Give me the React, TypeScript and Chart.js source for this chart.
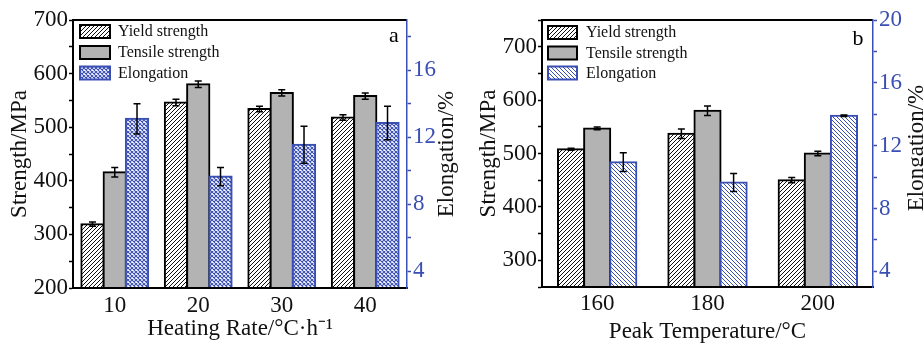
import React, { useEffect, useRef } from 'react';
import { Chart, registerables } from 'chart.js';

Chart.register(...registerables);

// ---------- Panel a: heating rate ----------
const rateCategories = ['10', '20', '30', '40'];
const rateYield = [319, 546, 534, 518];
const rateYieldErr = [4, 6, 5, 5];
const rateTensile = [416, 580, 564, 558];
const rateTensileErr = [9, 6, 6, 6];
const rateElong = [13.1, 9.65, 11.55, 12.85];
const rateElongErr = [0.9, 0.55, 1.1, 1.0];
const rateLeftTicks = [200, 250, 300, 350, 400, 450, 500, 550, 600, 650, 700];
const rateRightTicks = [4, 6, 8, 10, 12, 14, 16, 18];

// ---------- Panel b: peak temperature ----------
const peakCategories = ['160', '180', '200'];
const peakYield = [508, 537, 450];
const peakYieldErr = [2, 9, 5];
const peakTensile = [547, 580, 500];
const peakTensileErr = [2.5, 9, 4];
const peakElong = [10.95, 9.65, 13.9];
const peakElongErr = [0.6, 0.57, 0.05];
const peakLeftTicks = [250, 300, 350, 400, 450, 500, 550, 600, 650, 700, 750];
const peakRightTicks = [4, 6, 8, 10, 12, 14, 16, 18, 20];

const seriesLabels = ['Yield strength', 'Tensile strength', 'Elongation'];
const leftTitle = 'Strength/MPa';
const rightTitle = 'Elongation/%';
const rateTitle = 'Heating Rate/°C·h⁻¹';
const peakTitle = 'Peak Temperature/°C';

const FONT_FAMILY = "'Liberation Serif', 'Times New Roman', Times, serif";
const BLUE = '#3a4fb4';
const GRAY = '#b3b3b3';

function makeHatch(color: string, dir: 'up' | 'down', size = 4, lw = 1): any {
  const c = document.createElement('canvas');
  c.width = size;
  c.height = size;
  const g = c.getContext('2d')!;
  g.fillStyle = '#ffffff';
  g.fillRect(0, 0, size, size);
  g.strokeStyle = color;
  g.lineWidth = lw;
  g.beginPath();
  for (const o of [-size, 0, size]) {
    if (dir === 'up') {
      g.moveTo(o, size);
      g.lineTo(o + size, 0);
    } else {
      g.moveTo(o, 0);
      g.lineTo(o + size, size);
    }
  }
  g.stroke();
  return g.createPattern(c, 'repeat');
}

function makeCross(color: string, size = 4, lw = 1.1): any {
  const c = document.createElement('canvas');
  c.width = size;
  c.height = size;
  const g = c.getContext('2d')!;
  g.fillStyle = '#ffffff';
  g.fillRect(0, 0, size, size);
  g.strokeStyle = color;
  g.lineWidth = lw;
  g.beginPath();
  for (const o of [-size, 0, size]) {
    g.moveTo(o, size);
    g.lineTo(o + size, 0);
    g.moveTo(o, 0);
    g.lineTo(o + size, size);
  }
  g.stroke();
  return g.createPattern(c, 'repeat');
}

type PanelSpec = {
  canvasLeft: number;
  width: number;
  height: number;
  plot: { left: number; right: number; top: number; bottom: number };
  categories: string[];
  yieldV: number[];
  yieldE: number[];
  tensileV: number[];
  tensileE: number[];
  elongV: number[];
  elongE: number[];
  yMin: number;
  yMax: number;
  y1Min: number;
  y1Max: number;
  leftTicks: number[];
  rightTicks: number[];
  catPct: number;
  xTitle: string;
  xTickPad: number;
  xTitlePad: number;
  yTitlePad: number;
  rightTitleX: number;
  rightTitleY: number;
  legendX: number;
  legendW: number;
  legendRows: number[];
  legendTextX: number;
  tag: string;
  tagX: number;
  tagY: number;
  elongStyle: 'cross' | 'hatch';
};

const panelA: PanelSpec = {
  canvasLeft: 0,
  width: 460,
  height: 348,
  plot: { left: 73, right: 407, top: 20, bottom: 288 },
  categories: rateCategories,
  yieldV: rateYield,
  yieldE: rateYieldErr,
  tensileV: rateTensile,
  tensileE: rateTensileErr,
  elongV: rateElong,
  elongE: rateElongErr,
  yMin: 200,
  yMax: 700,
  y1Min: 3,
  y1Max: 19,
  leftTicks: rateLeftTicks,
  rightTicks: rateRightTicks,
  catPct: 0.8,
  xTitle: rateTitle,
  xTickPad: 4,
  xTitlePad: 5,
  yTitlePad: 6,
  rightTitleX: 447,
  rightTitleY: 154,
  legendX: 80,
  legendW: 30,
  legendRows: [31.5, 52.5, 73],
  legendTextX: 118,
  tag: 'a',
  tagX: 394,
  tagY: 36,
  elongStyle: 'cross',
};

const panelB: PanelSpec = {
  canvasLeft: 460,
  width: 463,
  height: 348,
  plot: { left: 82, right: 413, top: 20, bottom: 287 },
  categories: peakCategories,
  yieldV: peakYield,
  yieldE: peakYieldErr,
  tensileV: peakTensile,
  tensileE: peakTensileErr,
  elongV: peakElong,
  elongE: peakElongErr,
  yMin: 250,
  yMax: 750,
  y1Min: 3,
  y1Max: 20,
  leftTicks: peakLeftTicks,
  rightTicks: peakRightTicks,
  catPct: 0.71,
  xTitle: peakTitle,
  xTickPad: 3,
  xTitlePad: 2,
  yTitlePad: 15,
  rightTitleX: 457,
  rightTitleY: 148,
  legendX: 88,
  legendW: 29,
  legendRows: [32.5, 53, 73],
  legendTextX: 126,
  tag: 'b',
  tagX: 398,
  tagY: 39,
  elongStyle: 'hatch',
};

function Panel({ spec }: { spec: PanelSpec }) {
  const ref = useRef<HTMLCanvasElement | null>(null);

  useEffect(() => {
    const canvas = ref.current;
    if (!canvas) return;
    const tickFont = { family: FONT_FAMILY, size: 23 };
    const titleFont = { family: FONT_FAMILY, size: 23 };
    const errs = [spec.yieldE, spec.tensileE, spec.elongE];
    const yieldPattern = makeHatch('#111111', 'up', 4, 1);
    const elongPattern =
      spec.elongStyle === 'cross' ? makeCross(BLUE, 4, 1.1) : makeHatch(BLUE, 'down', 4, 1);

    const decor = {
      id: 'decor',
      beforeDatasetsDraw(chart: any) {
        const ctx = chart.ctx;
        const a = chart.chartArea;
        ctx.save();
        ctx.beginPath();
        ctx.rect(a.left - 2, a.top - 2, a.right - a.left + 4, a.bottom - a.top + 2);
        ctx.clip();
        chart.data.datasets.forEach((_ds: any, i: number) => {
          const meta = chart.getDatasetMeta(i);
          if (meta.visible) meta.controller.draw();
        });
        ctx.restore();
        ctx.save();
        ctx.strokeStyle = '#000';
        ctx.lineWidth = 1.5;
        chart.data.datasets.forEach((ds: any, i: number) => {
          const meta = chart.getDatasetMeta(i);
          const scale = chart.scales[meta.yAxisID];
          const vals = ds.data as number[];
          errs[i].forEach((e, j) => {
            const el = meta.data[j];
            if (!el) return;
            const x = el.x;
            const yT = scale.getPixelForValue(vals[j] + e);
            const yB = scale.getPixelForValue(vals[j] - e);
            ctx.beginPath();
            ctx.moveTo(x, yT);
            ctx.lineTo(x, yB);
            ctx.moveTo(x - 3.5, yT);
            ctx.lineTo(x + 3.5, yT);
            ctx.moveTo(x - 3.5, yB);
            ctx.lineTo(x + 3.5, yB);
            ctx.stroke();
          });
        });
        ctx.restore();
        return false;
      },
      afterDraw(chart: any) {
        const ctx = chart.ctx;
        const a = chart.chartArea;
        ctx.save();
        // top frame line
        ctx.strokeStyle = '#000';
        ctx.lineWidth = 2;
        ctx.beginPath();
        ctx.moveTo(a.left - 1, a.top);
        ctx.lineTo(a.right - 0.75, a.top);
        ctx.stroke();

        // legend
        chart.data.datasets.forEach((ds: any, i: number) => {
          const cy = spec.legendRows[i];
          const h = 13;
          ctx.fillStyle = ds.backgroundColor;
          ctx.fillRect(spec.legendX, cy - h / 2, spec.legendW, h);
          ctx.strokeStyle = ds.borderColor;
          ctx.lineWidth = 2;
          ctx.strokeRect(spec.legendX, cy - h / 2, spec.legendW, h);
          ctx.fillStyle = '#111';
          ctx.font = `16px ${FONT_FAMILY}`;
          ctx.textAlign = 'left';
          ctx.textBaseline = 'middle';
          ctx.fillText(ds.label, spec.legendTextX, cy + 0.5);
        });

        // panel tag
        ctx.fillStyle = '#000';
        ctx.font = `22px ${FONT_FAMILY}`;
        ctx.textAlign = 'center';
        ctx.textBaseline = 'middle';
        ctx.fillText(spec.tag, spec.tagX, spec.tagY);

        // right axis title (reads bottom to top)
        ctx.translate(spec.rightTitleX, spec.rightTitleY);
        ctx.rotate(-Math.PI / 2);
        ctx.font = `23px ${FONT_FAMILY}`;
        ctx.fillStyle = '#111';
        ctx.textAlign = 'center';
        ctx.textBaseline = 'middle';
        ctx.fillText(rightTitle, 0, 0);
        ctx.restore();
      },
    };

    const chart = new Chart(canvas, {
      type: 'bar',
      data: {
        labels: spec.categories,
        datasets: [
          {
            label: seriesLabels[0],
            data: spec.yieldV,
            backgroundColor: yieldPattern,
            borderColor: '#000',
            borderWidth: 2,
            inflateAmount: 1,
            yAxisID: 'y',
          } as any,
          {
            label: seriesLabels[1],
            data: spec.tensileV,
            backgroundColor: GRAY,
            borderColor: '#000',
            borderWidth: 2,
            inflateAmount: 1,
            yAxisID: 'y',
          } as any,
          {
            label: seriesLabels[2],
            data: spec.elongV,
            backgroundColor: elongPattern,
            borderColor: BLUE,
            borderWidth: 2,
            inflateAmount: 1,
            yAxisID: 'y1',
          } as any,
        ],
      },
      options: {
        responsive: false,
        animation: false,
        layout: { padding: { top: spec.plot.top, left: 0, right: 0, bottom: 0 } },
        datasets: { bar: { categoryPercentage: spec.catPct, barPercentage: 1 } } as any,
        plugins: { legend: { display: false }, tooltip: { enabled: false } },
        scales: {
          x: {
            type: 'category',
            offset: true,
            grid: { display: false, drawTicks: false },
            border: { display: true, color: '#000', width: 2, z: 1 },
            ticks: { font: tickFont, color: '#111', padding: spec.xTickPad, maxRotation: 0 },
            title: {
              display: true,
              text: spec.xTitle,
              font: titleFont,
              color: '#111',
              padding: { top: 0, bottom: spec.xTitlePad },
            },
            afterFit: (s: any) => {
              s.height = spec.height - spec.plot.bottom;
            },
          },
          y: {
            type: 'linear',
            position: 'left',
            min: spec.yMin,
            max: spec.yMax,
            grid: {
              drawOnChartArea: false,
              drawTicks: true,
              tickLength: 4,
              tickColor: '#000',
              tickWidth: 1.5,
            },
            border: { display: true, color: '#000', width: 2, z: 1 },
            ticks: {
              autoSkip: false,
              padding: 1,
              font: tickFont,
              color: '#111',
              callback: (v: any) => (Number(v) % 100 === 0 ? String(v) : ''),
            },
            afterBuildTicks: (s: any) => {
              s.ticks = spec.leftTicks.map((value) => ({ value }));
            },
            title: {
              display: true,
              text: leftTitle,
              font: titleFont,
              color: '#111',
              padding: { top: spec.yTitlePad, bottom: 0 },
            },
            afterFit: (s: any) => {
              s.width = spec.plot.left;
            },
          },
          y1: {
            type: 'linear',
            position: 'right',
            min: spec.y1Min,
            max: spec.y1Max,
            grid: {
              drawOnChartArea: false,
              drawTicks: true,
              tickLength: 4,
              tickColor: BLUE,
              tickWidth: 1.5,
            },
            border: { display: true, color: BLUE, width: 1.5, z: 1 },
            ticks: {
              autoSkip: false,
              padding: 2,
              font: tickFont,
              color: BLUE,
              callback: (v: any) => (Math.round(Number(v)) % 4 === 0 ? String(Math.round(Number(v))) : ''),
            },
            afterBuildTicks: (s: any) => {
              s.ticks = spec.rightTicks.map((value) => ({ value }));
            },
            title: { display: false },
            afterFit: (s: any) => {
              s.width = spec.width - spec.plot.right;
            },
          },
        },
      } as any,
      plugins: [decor as any],
    });

    return () => {
      chart.destroy();
    };
  }, [spec]);

  return (
    <canvas
      ref={ref}
      width={spec.width}
      height={spec.height}
      style={{
        position: 'absolute',
        left: spec.canvasLeft,
        top: 0,
        width: spec.width,
        height: spec.height,
      }}
    />
  );
}

export default function App() {
  return (
    <div
      style={{
        position: 'absolute',
        left: 0,
        top: 0,
        width: 923,
        height: 348,
        background: '#ffffff',
        overflow: 'hidden',
      }}
    >
      <Panel spec={panelA} />
      <Panel spec={panelB} />
    </div>
  );
}
